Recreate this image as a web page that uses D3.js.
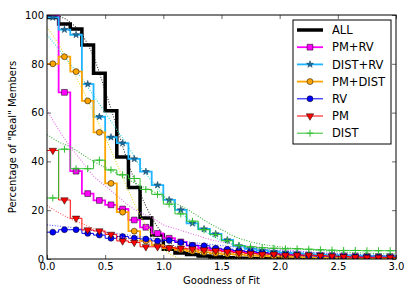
<!DOCTYPE html>
<html>
<head>
<meta charset="utf-8">
<script src="https://cdn.jsdelivr.net/npm/d3@7"></script>
<style>
  body { margin: 0; background: #fff; }
  text { font-family: "DejaVu Sans", sans-serif; }
</style>
</head>
<body>
<svg class="chart"></svg>
<script>

// bin values (percent), one per 0.1 wide bin from 0.0 to 3.0
var allVals   = [99, 96.3, 94.3, 87.7, 76.1, 60.8, 41.8, 29.3, 16.8, 9.8, 4, 2.5, 1.8, 1.2, 0.8, 0.5, 0.3, 0.2, 0.1, 0.1, 0, 0, 0, 0, 0, 0, 0, 0, 0, 0];
var pmrvVals  = [100, 68.3, 36, 26.8, 24, 22.2, 20.5, 16, 13, 10.5, 8.5, 7, 5.5, 4.5, 3.8, 3.3, 3, 2.7, 2.4, 2.2, 2, 1.8, 1.6, 1.5, 1.4, 1.3, 1.2, 1.1, 1, 1];
var distrvVals = [99, 94, 91.9, 71.7, 58.3, 49.9, 47.5, 41, 35.8, 30.3, 24.2, 20.1, 14.6, 12.3, 10.3, 7.8, 5.4, 4.2, 3.5, 3, 2.6, 2.3, 2, 1.8, 1.6, 1.5, 1.4, 1.3, 1.2, 1.1];
var pmdistVals = [80, 82.9, 76.8, 64.8, 51.9, 31, 19.2, 11.4, 7.4, 5.7, 4.5, 3.8, 3.2, 2.7, 2.3, 2, 1.8, 1.5, 1.3, 1.1, 1, 0.9, 0.8, 0.7, 0.6, 0.6, 0.5, 0.5, 0.4, 0.4];
var rvVals    = [11, 12, 12, 10.5, 9.8, 8.5, 9.2, 8.5, 8.2, 7.4, 7.6, 6.8, 5.6, 5.4, 4.4, 4, 3.4, 3, 2.6, 2.1, 1.7, 1.5, 1.3, 1.1, 1, 0.9, 0.8, 0.8, 0.7, 0.7];
var pmVals    = [44.5, 24.2, 16.7, 11.9, 11.5, 10.1, 7.4, 6.8, 5, 5, 4.6, 4.4, 4.1, 3.7, 3.4, 3, 2.6, 2.3, 2, 2, 1.6, 1.6, 1.6, 1.4, 1.2, 1, 0.8, 0.7, 0.7, 0.7];
var distVals  = [25, 45, 37, 37, 40.5, 36.5, 34.5, 33, 28.5, 26.5, 22.5, 18.5, 15.5, 12, 10, 7.5, 5.5, 5, 4.6, 4.4, 4.2, 4.2, 4, 3.8, 3.6, 3.5, 3.5, 3.4, 3.4, 3.4];

var fitX      = [0, 0.1, 0.2, 0.3, 0.4, 0.5, 0.6, 0.7, 0.8, 0.9, 1.0, 1.1, 1.2, 1.3, 1.4, 1.5, 1.6, 1.8, 2.0, 2.5, 3.0];
var allFit    = [100, 99.5, 97, 92, 83, 69, 54, 39, 27, 17, 10, 5, 2.5, 1, 0.4, 0.1, 0, 0, 0, 0, 0];
var pmrvFit   = [61, 53, 46, 40, 34, 30, 26, 22, 19, 17, 14, 12.5, 11, 9.5, 8, 7, 6, 5, 4, 2, 1];
var distrvFit = [92, 86, 80, 74, 67, 60, 53, 46, 38, 32, 26, 21, 17, 13, 10, 7.5, 6, 3.3, 1.5, 0.2, 0];
var pmdistFit = [95, 88, 79, 70, 60, 50, 39, 28, 18, 10, 4, 1, 0, 0, 0, 0, 0, 0, 0, 0, 0];
var rvFit     = [14, 13.5, 13, 12.3, 11.6, 11, 10.4, 9.8, 9.2, 8.6, 8, 7.5, 7, 6.5, 6, 5.5, 5, 4.2, 3.5, 2.2, 1.3];
var pmFit     = [22, 19, 16.5, 14.5, 12.5, 11, 9.5, 8.3, 7.3, 6.4, 5.6, 4.9, 4.3, 3.8, 3.4, 3, 2.7, 2.1, 1.6, 0.9, 0.5];
var distFit   = [51, 48, 46, 43, 40, 37.5, 35, 32.5, 30, 28, 25.5, 23, 20.5, 17.5, 14.5, 12, 9.5, 6.5, 5, 3, 2];

var labels  = ["ALL", "PM+RV", "DIST+RV", "PM+DIST", "RV", "PM", "DIST"];
var xTicks  = [0, 0.5, 1.0, 1.5, 2.0, 2.5, 3.0];
var yTicks  = [0, 20, 40, 60, 80, 100];

var series = [
	{ name: labels[0], vals: allVals,    fit: allFit,    color: "#000000", fitColor: "#333333", lw: 3.5, marker: null },
	{ name: labels[1], vals: pmrvVals,   fit: pmrvFit,   color: "#ff00ff", fitColor: "#e070e0", lw: 1.8, marker: "square" },
	{ name: labels[2], vals: distrvVals, fit: distrvFit, color: "#1eb4ff", fitColor: "#30d8d8", lw: 1.8, marker: "star" },
	{ name: labels[3], vals: pmdistVals, fit: pmdistFit, color: "#ffa500", fitColor: "#e0d830", lw: 1.8, marker: "circle" },
	{ name: labels[4], vals: rvVals,     fit: rvFit,     color: "#0000ff", fitColor: "#5a5aff", lw: 1, marker: "circle" },
	{ name: labels[5], vals: pmVals,     fit: pmFit,     color: "#ff0000", fitColor: "#ff6060", lw: 1, marker: "tri" },
	{ name: labels[6], vals: distVals,   fit: distFit,   color: "#2ebf2e", fitColor: "#40b040", lw: 1, marker: "plus" }
];

var width = 415, height = 297;
var margin = {top: 15, right: 19, bottom: 38, left: 47};

var x = d3.scaleLinear()
	.domain([0, 3])
	.range([margin.left, width - margin.right]);

var y = d3.scaleLinear()
	.domain([0, 100])
	.range([height - margin.bottom, margin.top]);

var centers = d3.range(30).map(i => (i + 0.5) / 10);

var svg = d3.select(".chart")
	.attr("width", width)
	.attr("height", height);

svg.append("defs").append("clipPath").attr("id", "clip")
	.append("rect")
	.attr("x", margin.left).attr("y", margin.top)
	.attr("width", x(3) - x(0)).attr("height", y(0) - y(100));

var plot = svg.append("g").attr("clip-path", "url(#clip)");

var stepLine = d3.line()
	.x(d => x(d[0]))
	.y(d => y(d[1]))
	.curve(d3.curveStep);

var fitLine = d3.line()
	.x(d => x(d[0]))
	.y(d => y(d[1]))
	.curve(d3.curveMonotoneX);

function markerPath(kind) {
	if (kind == "square") return d3.symbol(d3.symbolSquare, 34)();
	if (kind == "circle") return d3.symbol(d3.symbolCircle, 28)();
	if (kind == "star")   return d3.symbol(d3.symbolStar, 15)();
	if (kind == "tri")    return d3.symbol(d3.symbolTriangle, 24)();
	if (kind == "plus")   return "M-3.5,0H3.5M0,-3.5V3.5";
	return "";
}

function drawMarker(g, s, px, py) {
	var m = g.append("path")
		.attr("d", markerPath(s.marker))
		.attr("transform", "translate(" + px + "," + py + ")" + (s.marker == "tri" ? " rotate(180)" : ""));
	if (s.marker == "plus") {
		m.attr("fill", "none").attr("stroke", s.color).attr("stroke-width", 1);
	} else if (s.marker == "star") {
		m.attr("fill", "#1a6fa0").attr("stroke", "#0b3550").attr("stroke-width", 0.5);
	} else {
		m.attr("fill", s.color).attr("stroke", "#000").attr("stroke-width", 0.5);
	}
}

series.forEach(function(s) {
	var pts = [[0, s.vals[0]]].concat(centers.map((c, i) => [c, s.vals[i]]));
	pts.push([3, s.vals[s.vals.length - 1]]);

	plot.append("path")
		.attr("d", fitLine(fitX.map((fx, i) => [fx, s.fit[i]])))
		.attr("fill", "none")
		.attr("stroke", s.fitColor)
		.attr("stroke-width", 1.1)
		.attr("stroke-dasharray", "1,1.6");

	plot.append("path")
		.attr("d", stepLine(pts))
		.attr("fill", "none")
		.attr("stroke", s.color)
		.attr("stroke-width", s.lw)
		.attr("stroke-linejoin", "miter");

	if (s.marker) {
		var mg = plot.append("g");
		centers.forEach((c, i) => drawMarker(mg, s, x(c), y(s.vals[i])));
	}
});

// frame + inward ticks on all four sides
var xAxis = g => g
	.attr("transform", `translate(0,${height - margin.bottom})`)
	.call(d3.axisBottom(x).tickValues(xTicks).tickFormat(d3.format(".1f")).tickSize(-4).tickPadding(4))
	.call(g => g.select(".domain").remove());

var xAxisTop = g => g
	.attr("transform", `translate(0,${margin.top})`)
	.call(d3.axisTop(x).tickValues(xTicks).tickFormat("").tickSize(-4))
	.call(g => g.select(".domain").remove());

var yAxis = g => g
	.attr("transform", `translate(${margin.left},0)`)
	.call(d3.axisLeft(y).tickValues(yTicks).tickSize(-4).tickPadding(3))
	.call(g => g.select(".domain").remove());

var yAxisRight = g => g
	.attr("transform", `translate(${width - margin.right},0)`)
	.call(d3.axisRight(y).tickValues(yTicks).tickFormat("").tickSize(-4))
	.call(g => g.select(".domain").remove());

svg.append("g").call(xAxis);
svg.append("g").call(xAxisTop);
svg.append("g").call(yAxis);
svg.append("g").call(yAxisRight);

svg.selectAll(".tick text")
	.attr("font-family", "DejaVu Sans, sans-serif")
	.attr("font-size", 10)
	.attr("fill", "#000");
svg.selectAll(".tick line").attr("stroke", "#000").attr("stroke-width", 0.6);

svg.append("rect")
	.attr("x", x(0)).attr("y", y(100))
	.attr("width", x(3) - x(0)).attr("height", y(0) - y(100))
	.attr("fill", "none").attr("stroke", "#000").attr("stroke-width", 1);

svg.append("text")
	.attr("x", (x(0) + x(3)) / 2)
	.attr("y", 284)
	.attr("text-anchor", "middle")
	.attr("font-size", 10)
	.text("Goodness of Fit");

svg.append("text")
	.attr("transform", "translate(16," + ((y(0) + y(100)) / 2) + ") rotate(-90)")
	.attr("text-anchor", "middle")
	.attr("font-size", 10)
	.text("Percentage of \"Real\" Members");

// legend
var legend = svg.append("g");
legend.append("rect")
	.attr("x", 293).attr("y", 20)
	.attr("width", 98).attr("height", 124)
	.attr("fill", "#fff").attr("stroke", "#000").attr("stroke-width", 1);

series.forEach(function(s, i) {
	var ly = 30 + i * 17.2;
	legend.append("line")
		.attr("x1", 297).attr("x2", 323)
		.attr("y1", ly).attr("y2", ly)
		.attr("stroke", s.color)
		.attr("stroke-width", s.lw);
	if (s.marker) drawMarker(legend, s, 310, ly);
	legend.append("text")
		.attr("x", 332).attr("y", ly)
		.attr("dy", "0.36em")
		.attr("font-size", 11.5)
		.text(s.name);
});

</script>
</body>
</html>
